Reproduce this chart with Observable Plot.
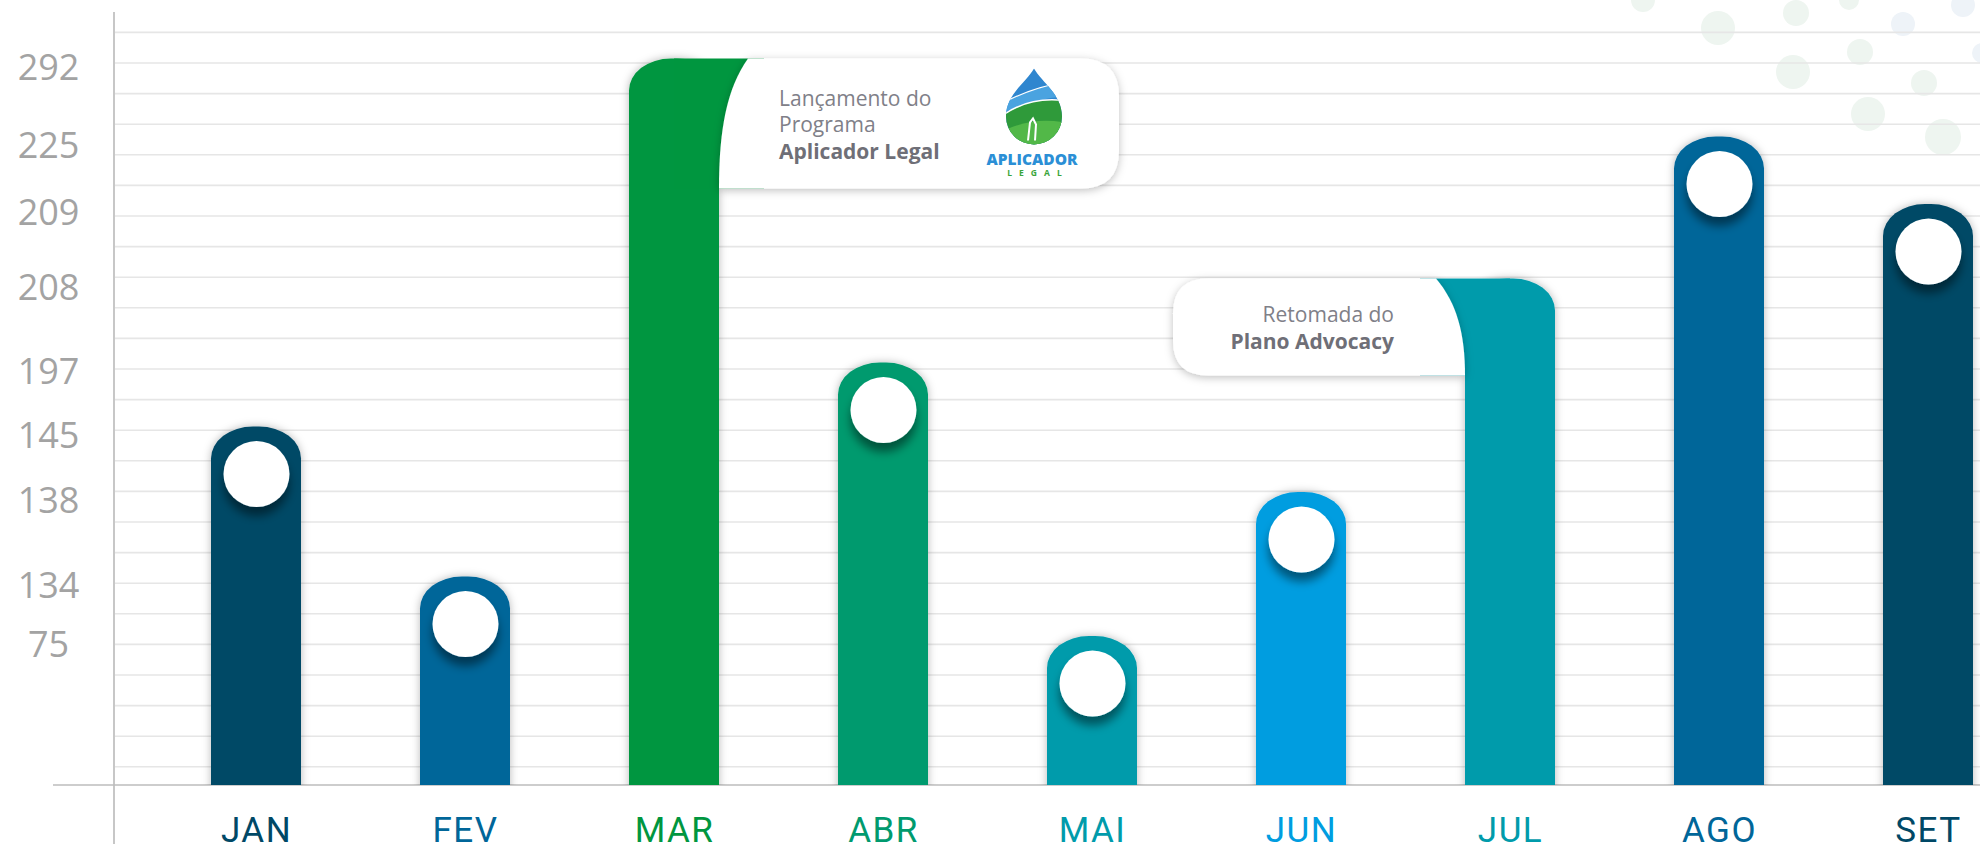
<!DOCTYPE html>
<html><head><meta charset="utf-8">
<script src="https://cdn.jsdelivr.net/npm/d3@7"></script>
<script src="https://cdn.jsdelivr.net/npm/@observablehq/plot@0.6"></script>
<style>html,body{margin:0;padding:0;background:#fff;overflow:hidden}</style>
</head><body><div id="chart"></div>
<script>
// ---- data ----
const months = ["JAN","FEV","MAR","ABR","MAI","JUN","JUL","AGO","SET"];
const values = [145,134,292,197,75,138,208,225,209];
const colors = ["#004866","#006699","#00963f","#009a6e","#009bab","#009de0","#009bab","#006699","#004866"];
const tickValues = [75,134,138,145,197,208,209,225,292];
const calloutMonths = ["MAR","JUL"];
const callout1Lines = ["Lançamento do","Programa"];
const callout1Bold = "Aplicador Legal";
const callout2Lines = ["Retomada do"];
const callout2Bold = "Plano Advocacy";
const logoTitle = "APLICADOR";
const logoSub = "LEGAL";

// layout (scale range, pixels)
const yRange = [785, 636, 576.5, 492, 426.5, 362.5, 278.5, 204, 136.5, 58.5];

const data = months.map((m,i)=>({month:m, value:values[i], color:colors[i]}));
const withDot = data.filter(d => !calloutMonths.includes(d.month));

const plot = Plot.plot({
  width:1980, height:848, marginLeft:114, marginRight:0, marginTop:0, marginBottom:63,
  style:{fontFamily:"'Open Sans', sans-serif", background:"transparent", overflow:"visible"},
  x:{type:"band", domain:months, range:[209.5,1975], paddingInner:0.5704, paddingOuter:0, axis:null},
  y:{type:"linear", domain:[0, ...tickValues], range:yRange, label:null},
  color:{type:"identity"},
  marks:[
    Plot.barY(data,{x:"month", y1:()=>-30, y2:"value", fill:"color", rx:42, ry:32, clip:true}),
    Plot.dot(withDot,{x:"month", y:"value", dy:47, r:33, fill:"#ffffff", stroke:null}),
    Plot.axisY({ticks:tickValues, tickSize:0, tickPadding:0, dx:-66, dy:9, textAnchor:"middle",
      fontSize:36, fontWeight:500, fill:"#a3a3a3", tickFormat:d=>String(d), label:null}),
    Plot.text(data,{x:"month", y:()=>0, dy:45, text:"month", fill:"color", fontSize:35,
      fontFamily:"Roboto", fontWeight:400})
  ]
});
document.getElementById("chart").appendChild(plot);

const svg = d3.select(plot);
const xs = plot.scale("x"), ys = plot.scale("y");
const bw = xs.bandwidth;

// defs: shadows
const defs = svg.append("defs");
function shadow(id, dy, sd, op){
  const f = defs.append("filter").attr("id",id).attr("x","-50%").attr("y","-50%").attr("width","200%").attr("height","200%");
  f.append("feDropShadow").attr("dx",0).attr("dy",dy).attr("stdDeviation",sd).attr("flood-color","#000").attr("flood-opacity",op);
}
shadow("barSh",0,4,0.28);
shadow("dotSh",9,5,0.45);
shadow("boxSh",2,4,0.25);

svg.selectAll('g[aria-label="bar"]').attr("filter","url(#barSh)");
svg.selectAll('g[aria-label="dot"]').attr("filter","url(#dotSh)");
svg.selectAll('g[aria-label="text"] text').style("letter-spacing","1.5px");

// background decoration: gridlines, axis lines, faint dots
const bg = svg.insert("g","g");
const decorDots = [[1643,0,12,"#eef5f0"],[1718,28,17,"#eef5f0"],[1796,13,13,"#eef5f0"],[1849,0,10,"#eef5f0"],
  [1903,24,12,"#eef3f8"],[1963,5,12,"#eef3f8"],[1793,72,17,"#eef5f0"],[1860,52,13,"#eef5f0"],
  [1924,83,13,"#eef5f0"],[1868,114,17,"#eef5f0"],[1943,137,18,"#eef5f0"],[1982,53,10,"#eef3f8"]];
bg.selectAll("circle").data(decorDots).join("circle")
  .attr("cx",d=>d[0]).attr("cy",d=>d[1]).attr("r",d=>d[2]).attr("fill",d=>d[3]);
bg.selectAll("line.grid").data(d3.range(25).map(k=>32.4+k*30.6)).join("line")
  .attr("class","grid").attr("x1",115).attr("x2",1980).attr("y1",d=>d).attr("y2",d=>d)
  .attr("stroke","#e6e6e6").attr("stroke-width",1.6);
bg.append("line").attr("x1",114).attr("x2",114).attr("y1",12).attr("y2",844).attr("stroke","#b5b5b5").attr("stroke-width",1.5);
bg.append("line").attr("x1",53).attr("x2",1980).attr("y1",ys.apply(0)).attr("y2",ys.apply(0)).attr("stroke","#bdbdbd").attr("stroke-width",1.5);

// callouts
const fg = svg.append("g").attr("text-anchor","start");
const FONT = "'Open Sans', sans-serif";
// MAR
{
  const d = data.find(d=>d.month==="MAR");
  const x0 = xs.apply("MAR"), top = ys.apply(d.value), bot = top+130, right = x0+490, r = 38;
  fg.append("rect").attr("x",x0+bw/2).attr("y",top).attr("width",bw/2+45).attr("height",bot-top).attr("fill",d.color);
  const cT = x0+bw+29, cB = x0+bw;
  fg.append("path").attr("filter","url(#boxSh)").attr("fill","#fff")
    .attr("d",`M${cT},${top} L${right-r},${top} Q${right},${top} ${right},${top+r} L${right},${bot-r} Q${right},${bot} ${right-r},${bot} L${cB},${bot} C${cB},${top+70} ${cB+8},${top+30} ${cT},${top} Z`);
  const tx = x0+150;
  callout1Lines.forEach((t,i)=>fg.append("text").attr("x",tx).attr("y",top+47+i*26).attr("text-anchor","start").text(t)
    .attr("font-size",21).attr("fill","#808088").attr("font-family",FONT));
  fg.append("text").attr("x",tx).attr("y",top+100).attr("text-anchor","start").text(callout1Bold)
    .attr("font-size",21).attr("font-weight",700).attr("fill","#6f6f77").attr("font-family",FONT);
  // logo
  const cx = x0+405, tip = top+10, rr = 28, cy = top+58;
  const dropPath = `M${cx},${tip} C${cx+8},${tip+14} ${cx+rr},${cy-22} ${cx+rr},${cy} A${rr} ${rr} 0 1 1 ${cx-rr},${cy} C${cx-rr},${cy-22} ${cx-8},${tip+14} ${cx},${tip} Z`;
  defs.append("clipPath").attr("id","dropClip").append("path").attr("d",dropPath);
  const lg = fg.append("g").attr("clip-path","url(#dropClip)");
  lg.append("rect").attr("x",cx-rr-2).attr("y",tip).attr("width",2*rr+4).attr("height",cy+rr-tip+2).attr("fill","#2f86cf");
  lg.append("path").attr("d",`M${cx-rr-2},${cy-14} Q${cx},${cy-30} ${cx+rr+2},${cy-34} L${cx+rr+2},${cy-20} Q${cx},${cy-18} ${cx-rr-2},${cy-4} Z`).attr("fill","#4aa3e0");
  lg.append("path").attr("d",`M${cx-rr-2},${cy-2} Q${cx-4},${cy-20} ${cx+rr+2},${cy-16} L${cx+rr+2},${cy+rr+2} L${cx-rr-2},${cy+rr+2} Z`).attr("fill","#2f9a3a");
  lg.append("path").attr("d",`M${cx-rr-2},${cy+14} Q${cx},${cy} ${cx+rr+2},${cy+6} L${cx+rr+2},${cy+rr+2} L${cx-rr-2},${cy+rr+2} Z`).attr("fill","#52b848");
  lg.append("path").attr("d",`M${cx-rr-2},${cy-2} Q${cx-4},${cy-20} ${cx+rr+2},${cy-16}`).attr("fill","none").attr("stroke","#fff").attr("stroke-width",1.5);
  lg.append("path").attr("d",`M${cx-rr-2},${cy-14} Q${cx},${cy-30} ${cx+rr+2},${cy-34}`).attr("fill","none").attr("stroke","#fff").attr("stroke-width",1.2);
  lg.append("path").attr("d",`M${cx-6},${cy+24} L${cx-4},${cy+6} L${cx-1},${cy+2} L${cx+2},${cy+8} L${cx+1},${cy+24}`).attr("fill","none").attr("stroke","#fff").attr("stroke-width",2);
  fg.append("text").attr("x",cx-2).attr("y",top+106).attr("text-anchor","middle").text(logoTitle)
    .attr("font-size",15.5).attr("font-weight",800).attr("fill","#2b8fd6").attr("font-family",FONT);
  fg.append("text").attr("x",cx+4).attr("y",top+117).attr("text-anchor","middle").text(logoSub)
    .attr("font-size",8.5).attr("font-weight",700).attr("fill","#3aa53a").style("letter-spacing","7px").attr("font-family",FONT);
}
// JUL
{
  const d = data.find(d=>d.month==="JUL");
  const x0 = xs.apply("JUL"), top = ys.apply(d.value), bot = top+97, left = x0-292, r = 35;
  fg.append("rect").attr("x",x0-45).attr("y",top).attr("width",bw/2+45).attr("height",bot-top).attr("fill",d.color);
  const cT = x0-29, cB = x0;
  fg.append("path").attr("filter","url(#boxSh)").attr("fill","#fff")
    .attr("d",`M${cT},${top} L${left+r},${top} Q${left},${top} ${left},${top+r} L${left},${bot-r} Q${left},${bot} ${left+r},${bot} L${cB},${bot} C${cB},${top+55} ${cB-8},${top+25} ${cT},${top} Z`);
  const tx = x0-71;
  callout2Lines.forEach((t,i)=>fg.append("text").attr("x",tx).attr("y",top+43+i*27).attr("text-anchor","end").text(t)
    .attr("font-size",21).attr("fill","#808088").attr("font-family",FONT));
  fg.append("text").attr("x",tx).attr("y",top+70).attr("text-anchor","end").text(callout2Bold)
    .attr("font-size",21).attr("font-weight",700).attr("fill","#6f6f77").attr("font-family",FONT);
}
</script></body></html>
